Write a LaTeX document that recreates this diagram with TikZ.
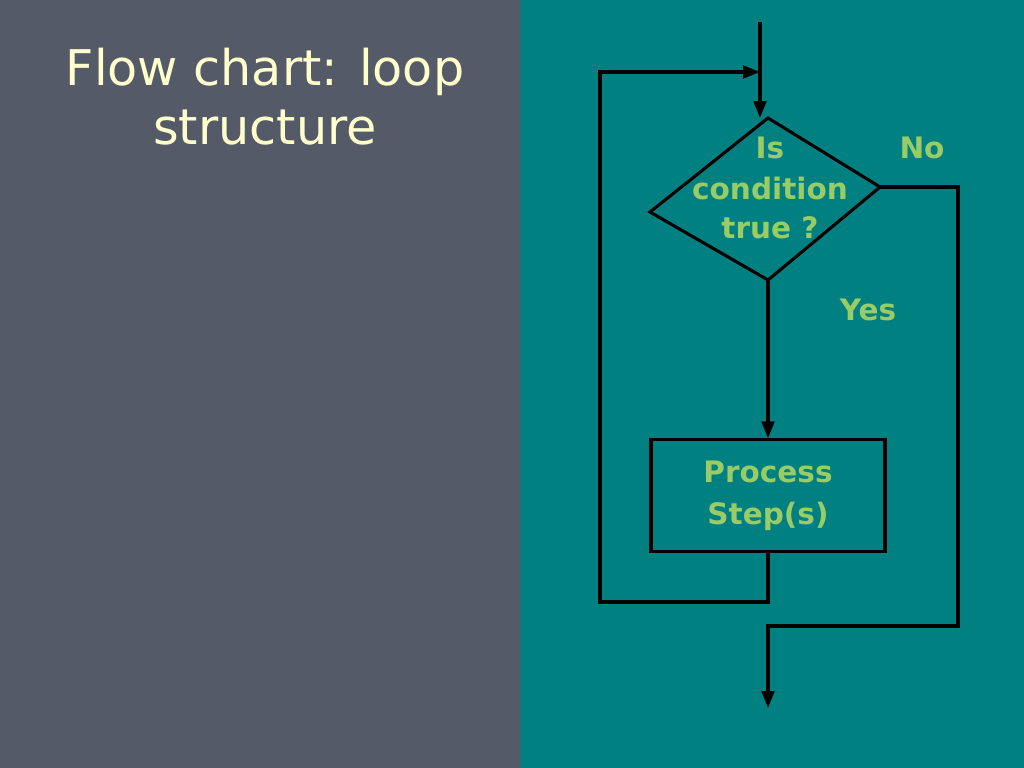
\documentclass[tikz,border=0pt]{standalone}
\usepackage{fontspec}
\setmainfont{DejaVu Sans}
\usetikzlibrary{arrows.meta}
\definecolor{slate}{HTML}{555A69}
\definecolor{teal}{HTML}{008080}
\definecolor{cream}{HTML}{FFFFCC}
\definecolor{lime}{HTML}{99CC66}
\tikzset{
 flow/.style={line width=2.2pt,black},
 arr/.style={flow,-{Triangle[length=12pt,width=9pt]}},
 lbl/.style={text=lime,font=\bfseries\fontsize{21}{26}\selectfont,inner sep=0pt},
}
\begin{document}
\begin{tikzpicture}[x=0.025cm,y=-0.025cm]
 \useasboundingbox (0,0) rectangle (1024,768);
 \fill[slate] (0,0) rectangle (520,768);
 \fill[teal] (520,0) rectangle (1024,768);
 \node (title) at (265,97) [text=cream,align=center,font=\fontsize{35}{42}\selectfont] {Flow chart: loop\\structure};
 % diamond corners
 \coordinate (dtop) at (768,118);
 \coordinate (dright) at (880,187);
 \coordinate (dbot) at (768,280);
 \coordinate (dleft) at (650,212);
 \draw[flow] (dtop) -- (dright) -- (dbot) -- (dleft) -- cycle;
 \node (is) at (770,148) [lbl] {Is};
 \node (cond) at (770,188) [lbl] {condition};
 \node (true) at (770,228) [lbl] {true ?};
 \node (no) at (922,148) [lbl] {No};
 \node (yes) at (868,310) [lbl] {Yes};
 % process box
 \node (proc) at (768,495.5) [flow,draw,minimum width=5.85cm,minimum height=2.78cm,lbl,align=center] {Process\\[4pt]Step(s)};
 \coordinate (entry) at (760,22);
 \coordinate (exit) at (768,708);
 \draw[arr] (entry) -- (760,118);
 \draw[arr] (dbot) -- (proc.north);
 \draw[arr] (proc.south) -- (768,602) -- (600,602) -- (600,72) -- (760,72);
 \draw[arr] (dright) -- (958,187) -- (958,626) -- (768,626) -- (exit);
\end{tikzpicture}
\end{document}
